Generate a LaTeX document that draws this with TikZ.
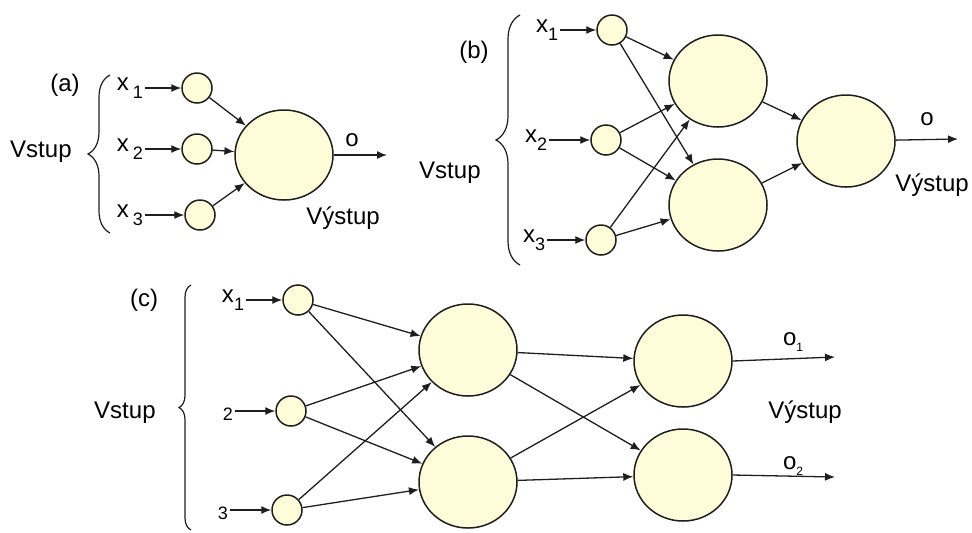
\documentclass[tikz,border=0pt]{standalone}
\usepackage{fontspec}
\setmainfont{Liberation Sans}
\usetikzlibrary{arrows.meta,shapes.geometric,decorations.pathreplacing}
\definecolor{neuronFill}{RGB}{255,253,217}
\definecolor{edgeGray}{RGB}{30,30,30}
\newcommand{\subidx}[1]{\raisebox{-0.6ex}{\fontsize{9}{9}\selectfont #1}}

\begin{document}
\begin{tikzpicture}[x=0.5pt,y=-0.5pt,
    neuron/.style={ellipse,draw=edgeGray,line width=0.75pt,fill=neuronFill,inner sep=0pt,minimum width=49pt,minimum height=46pt},
    inneuron/.style={circle,draw=edgeGray,line width=0.75pt,fill=neuronFill,inner sep=0pt,minimum size=15pt},
    link/.style={-{Latex[length=5pt,width=4pt]},line width=0.65pt,edgeGray},
    lbl/.style={font=\fontsize{12}{14}\selectfont,inner sep=1pt},
    brc/.style={decorate,decoration={brace,amplitude=#1},line width=0.6pt,edgeGray}]
    \useasboundingbox (0,0) rectangle (972,532);

    % (a) single neuron
    \node[lbl] (a_tag) at (65,85) {(a)};
    \node[lbl,anchor=east] (a_vstup) at (74,152) {Vstup};
    \draw[brc=11pt] (110,233) -- (110,75);
    \node[lbl] (a_x1) at (130,88) {x\,\subidx{1}};
    \node[lbl] (a_x2) at (130,149) {x\,\subidx{2}};
    \node[lbl] (a_x3) at (130,215) {x\,\subidx{3}};
    \node[inneuron] (a_in1) at (197,88) {};
    \node[inneuron] (a_in2) at (197,149) {};
    \node[inneuron] (a_in3) at (200,215) {};
    \node[neuron,minimum height=45pt] (a_out) at (284,155) {};
    \coordinate (a_end) at (387,155);
    \node[lbl] (a_o) at (352,140) {o};
    \node[lbl] (a_vystup) at (343,218) {Výstup};

    \foreach \i in {1,2,3} {
        \draw[link] (a_x\i) -- (a_in\i);
        \draw[link] (a_in\i) -- (a_out);
    }
    \draw[link] (a_out) -- (a_end);

    % (b) one hidden layer
    \node[lbl] (b_tag) at (474,52) {(b)};
    \node[lbl,anchor=east] (b_vstup) at (483,173) {Vstup};
    \draw[brc=12pt] (520,265) -- (520,15);
    \node[lbl] (b_x1) at (547,30) {x\subidx{1}};
    \node[lbl] (b_x2) at (536,140) {x\subidx{2}};
    \node[lbl] (b_x3) at (534,240) {x\subidx{3}};
    \node[inneuron] (b_in1) at (612,30) {};
    \node[inneuron] (b_in2) at (606,140) {};
    \node[inneuron] (b_in3) at (601,240) {};
    \node[neuron] (b_h1) at (718,81) {};
    \node[neuron] (b_h2) at (718,205) {};
    \node[neuron] (b_out) at (846,141) {};
    \coordinate (b_end) at (958,139);
    \node[lbl] (b_o) at (927,119) {o};
    \node[lbl] (b_vystup) at (932,185) {Výstup};

    \foreach \i in {1,2,3} {
        \draw[link] (b_x\i) -- (b_in\i);
        \draw[link] (b_in\i) -- (b_h1);
        \draw[link] (b_in\i) -- (b_h2);
    }
    \draw[link] (b_h1) -- (b_out);
    \draw[link] (b_h2) -- (b_out);
    \draw[link] (b_out) -- (b_end);

    % (c) two outputs
    \node[lbl] (c_tag) at (144,300) {(c)};
    \node[lbl,anchor=east] (c_vstup) at (158,413) {Vstup};
    \draw[brc=6pt] (191,530) -- (191,285);
    \node[lbl] (c_x1) at (233,300) {x\subidx{1}};
    \node[lbl,font=\fontsize{9}{9}\selectfont] (c_x2) at (228,414) {2};
    \node[lbl,font=\fontsize{9}{9}\selectfont] (c_x3) at (223,513) {3};
    \node[inneuron] (c_in1) at (298,300) {};
    \node[inneuron] (c_in2) at (291,411) {};
    \node[inneuron] (c_in3) at (287,510) {};
    \node[neuron] (c_h1) at (468,350) {};
    \node[neuron] (c_h2) at (468,482) {};
    \node[neuron] (c_o1) at (683,361) {};
    \node[neuron] (c_o2) at (683,475) {};
    \coordinate (c_end1) at (835,357);
    \coordinate (c_end2) at (835,477);
    \node[lbl] (c_lo1) at (793,342) {o\raisebox{-0.5ex}{\fontsize{6}{6}\selectfont 1}};
    \node[lbl] (c_lo2) at (793,466) {o\raisebox{-0.5ex}{\fontsize{6}{6}\selectfont 2}};
    \node[lbl] (c_vystup) at (805,412) {Výstup};

    \draw[link] (c_x1) -- (c_in1);
    \draw[link] (c_x2.east |- c_in2) -- (c_in2);
    \draw[link] (c_x3.east |- c_in3) -- (c_in3);
    \foreach \i in {1,2,3} {
        \draw[link] (c_in\i) -- (c_h1);
        \draw[link] (c_in\i) -- (c_h2);
    }
    \foreach \h in {1,2} {
        \draw[link] (c_h\h) -- (c_o1);
        \draw[link] (c_h\h) -- (c_o2);
    }
    \draw[link] (c_o1.east) -- (c_end1);
    \draw[link] (c_o2.east) -- (c_end2);
\end{tikzpicture}
\end{document}
